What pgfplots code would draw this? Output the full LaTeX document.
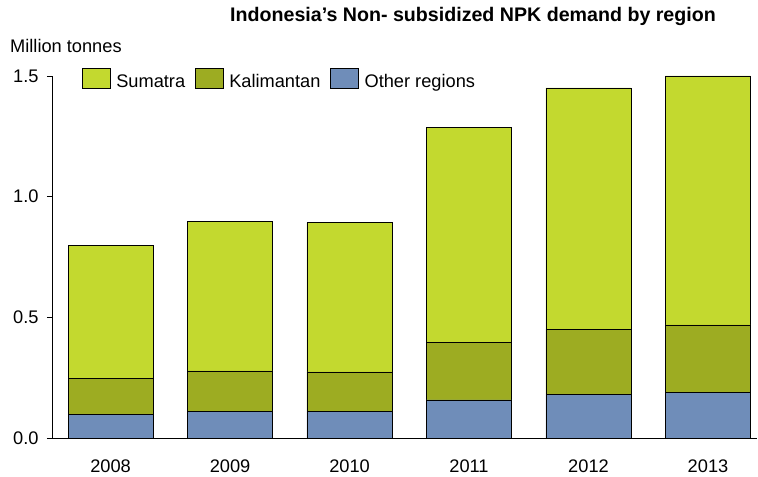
\documentclass[border=0pt]{standalone}
\usepackage{fontspec}
\setmainfont{Liberation Sans}
\usepackage{pgfplots}
\pgfplotsset{compat=1.18}
\definecolor{sumatra}{RGB}{195,217,47}
\definecolor{kalim}{RGB}{157,172,34}
\definecolor{other}{RGB}{111,141,185}
\begin{document}
\begin{tikzpicture}
\useasboundingbox (-52bp,-39bp) rectangle (706bp,438bp);
\begin{axis}[
  at={(0,0)}, anchor=south west,
  scale only axis, width=705bp, height=362bp,
  xmin=-0.49, xmax=5.41, ymin=0, ymax=1.5,
  ybar stacked, bar width=0.712,
  axis x line=bottom, axis y line=left,
  axis line style={-, line width=0.8bp, black},
  xtick={0,1,2,3,4,5},
  xticklabels={2008,2009,2010,2011,2012,2013},
  x tick style={draw=none},
  xticklabel style={inner sep=0pt, text depth=0pt, yshift=-17bp},
  ytick={0,0.5,1,1.5},
  y tick style={line width=0.8bp, black},
  tick align=outside, major tick length=5bp,
  yticklabel style={/pgf/number format/.cd, fixed, fixed zerofill, precision=1, /tikz/.cd, xshift=-5bp},
  /pgf/number format/assume math mode=true,
  tick label style={font=\fontsize{18.3}{21}\selectfont},
  legend columns=3, reverse legend,
  legend style={at={(0,1)}, anchor=west, xshift=30bp, yshift=-3.5bp, draw=none, fill=none,
    inner sep=0pt, font=\fontsize{18.3}{21}\selectfont,
    /tikz/every even column/.append style={column sep=8bp},
    /tikz/every odd column/.append style={column sep=3.5bp}},
  legend image code/.code={\draw[#1] (0bp,-6bp) rectangle (28bp,14bp);},
]
\addplot[fill=other, draw=black, line width=0.6bp] coordinates {(0,0.098) (1,0.111) (2,0.111) (3,0.158) (4,0.181) (5,0.188)};
\addplot[fill=kalim, draw=black, line width=0.6bp] coordinates {(0,0.150) (1,0.167) (2,0.163) (3,0.239) (4,0.270) (5,0.281)};
\addplot[fill=sumatra, draw=black, line width=0.6bp] coordinates {(0,0.549) (1,0.618) (2,0.618) (3,0.889) (4,1.000) (5,1.031)};
\legend{Other regions, Kalimantan, Sumatra}
\end{axis}
\node[anchor=base west, inner sep=0pt, font=\bfseries\fontsize{19.7}{22}\selectfont] at (178bp,416bp) {Indonesia’s Non- subsidized NPK demand by region};
\node[anchor=base west, inner sep=0pt, font=\fontsize{18.3}{21}\selectfont] at (-42bp,385.3bp) {Million tonnes};
\end{tikzpicture}
\end{document}
